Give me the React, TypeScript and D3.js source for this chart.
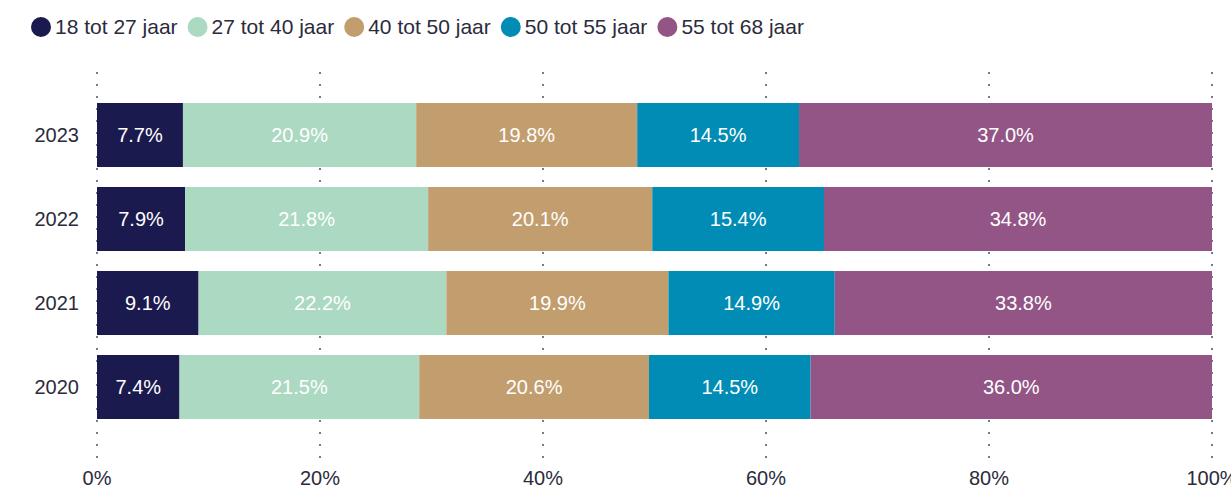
import React, { useEffect, useRef } from 'react'
import * as d3 from 'd3'

const years = ['2023', '2022', '2021', '2020']
const groups = ['18 tot 27 jaar', '27 tot 40 jaar', '40 tot 50 jaar', '50 tot 55 jaar', '55 tot 68 jaar']
const colors = ['#1b1a4e', '#acd9c1', '#c29e6e', '#008cb4', '#935486']
const xTicks = [0, 20, 40, 60, 80, 100]

// percentages per year, in the order of groups
const v2023 = [7.7, 20.9, 19.8, 14.5, 37.0]
const v2022 = [7.9, 21.8, 20.1, 15.4, 34.8]
const v2021 = [9.1, 22.2, 19.9, 14.9, 33.8]
const v2020 = [7.4, 21.5, 20.6, 14.5, 36.0]
const values = [v2023, v2022, v2021, v2020]

export default function App () {
  const ref = useRef<SVGSVGElement>(null)

  useEffect(() => {
    const svg = d3.select(ref.current)
    svg.selectAll('*').remove()

    const font = 'Liberation Sans, Arial, sans-serif'
    const textColor = '#2b2b3b'

    const x = d3.scaleLinear().domain([0, 100]).range([97, 1212])
    const y = d3.scaleBand().domain(years).range([103, 419]).paddingInner(0.238).paddingOuter(0)

    // dotted gridlines
    svg.append('g')
      .selectAll('line')
      .data(xTicks)
      .enter()
      .append('line')
      .attr('x1', d => x(d))
      .attr('x2', d => x(d))
      .attr('y1', 72)
      .attr('y2', 460)
      .attr('stroke', '#7a7890')
      .attr('stroke-width', 2)
      .attr('stroke-dasharray', '2,10')

    // stacked bars
    const rows = svg.append('g')
      .selectAll('g')
      .data(years)
      .enter()
      .append('g')

    rows.each(function (yr, i) {
      const vals = values[i]
      const total = d3.sum(vals)
      let acc = 0
      const g = d3.select(this)
      vals.forEach((v, j) => {
        const x0 = x(acc / total * 100)
        acc += v
        const x1 = x(acc / total * 100)
        g.append('rect')
          .attr('x', x0)
          .attr('y', y(yr)!)
          .attr('width', x1 - x0)
          .attr('height', y.bandwidth())
          .attr('fill', colors[j])
        g.append('text')
          .attr('x', (x0 + x1) / 2)
          .attr('y', y(yr)! + y.bandwidth() / 2)
          .attr('dy', '0.35em')
          .attr('text-anchor', 'middle')
          .attr('fill', '#fff')
          .attr('font-family', font)
          .attr('font-size', 20)
          .text(v.toFixed(1) + '%')
      })
      g.append('text')
        .attr('x', 79)
        .attr('y', y(yr)! + y.bandwidth() / 2)
        .attr('dy', '0.35em')
        .attr('text-anchor', 'end')
        .attr('fill', textColor)
        .attr('font-family', font)
        .attr('font-size', 20)
        .text(yr)
    })

    // x tick labels (the last one runs off the edge, as in the original)
    svg.append('g')
      .selectAll('text')
      .data(xTicks)
      .enter()
      .append('text')
      .attr('x', d => x(d))
      .attr('y', 485)
      .attr('text-anchor', 'middle')
      .attr('fill', textColor)
      .attr('font-family', font)
      .attr('font-size', 20)
      .text(d => d + '%')

    // legend
    const legend = svg.append('g')
    let lx = 31
    groups.forEach((name, i) => {
      legend.append('circle')
        .attr('cx', lx + 10)
        .attr('cy', 27)
        .attr('r', 10)
        .attr('fill', colors[i])
      const t = legend.append('text')
        .attr('x', lx + 24)
        .attr('y', 27)
        .attr('dy', '0.35em')
        .attr('fill', textColor)
        .attr('font-family', font)
        .attr('font-size', 21)
        .text(name)
      const w = (t.node() as SVGTextElement).getComputedTextLength()
      lx += 24 + w + 10
    })
  }, [])

  return (
    <svg ref={ref} width={1231} height={495}
      style={{ position: 'absolute', left: 0, top: 0, background: '#fff' }} />
  )
}
